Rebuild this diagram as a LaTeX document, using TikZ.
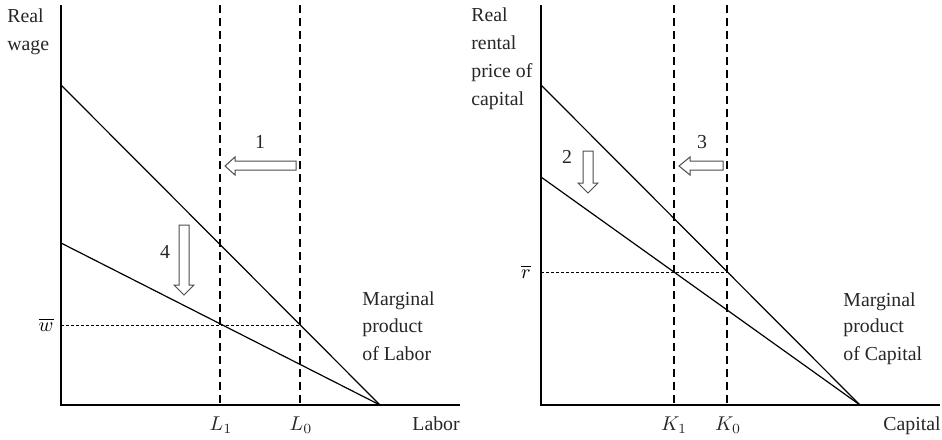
\documentclass[tikz,border=0pt]{standalone}
\usepackage{fontspec}
\setmainfont{Liberation Serif}
\begin{document}
\begin{tikzpicture}[x=0.5pt,y=-0.5pt,
  ax/.style={line width=0.6pt},
  curve/.style={line width=0.6pt},
  vdash/.style={line width=0.6pt,dash pattern=on 4pt off 2.5pt},
  hdot/.style={line width=0.5pt,dash pattern=on 1.5pt off 1pt},
  blockarrow/.style={line width=0.5pt,draw=black!70,fill=white},
  lbl/.style={inner sep=0pt,anchor=base west,text=black!85,font=\fontsize{9.9}{12}\selectfont},
  clbl/.style={inner sep=0pt,anchor=base,text=black!85,font=\fontsize{9.9}{12}\selectfont}]
\useasboundingbox (0,0) rectangle (942,439);

% ---------- left panel ----------
\coordinate (LO) at (61,405);
\coordinate (LYtop) at (61,5);
\coordinate (LXend) at (460,405);
\coordinate (LA) at (61,85);
\coordinate (LB) at (61,243);
\coordinate (LM) at (380,405);
\coordinate (L1t) at (220,5);
\coordinate (L1b) at (220,405);
\coordinate (L0t) at (300,5);
\coordinate (L0b) at (300,405);
\coordinate (LW) at (61,325);
\coordinate (LWe) at (300,325);

\draw[ax] (LYtop) -- (LO) -- (LXend);
\draw[curve] (LA) -- (LM);
\draw[curve] (LB) -- (LM);
\draw[vdash] (L1t) -- (L1b);
\draw[vdash] (L0t) -- (L0b);
\draw[hdot] (LW) -- (LWe);

\draw[blockarrow] (296,161) -- (235,161) -- (235,157) -- (225,166) -- (235,175) -- (235,170) -- (296,170) -- cycle;
\draw[blockarrow] (179,225) -- (189,225) -- (189,285) -- (194,285) -- (184,295) -- (174,285) -- (179,285) -- cycle;

\node[lbl] (realw) at (7,22) {Real};
\node[lbl] (wage) at (7,50) {wage};
\node[clbl] (n1) at (260,148) {1};
\node[clbl] (n4) at (165,258) {4};
\node[inner sep=0pt,anchor=east] (wbar) at (54,325) {$\overline{w}$};
\node[clbl] (l1) at (221,430) {$L_1$};
\node[clbl] (l0) at (301,430) {$L_0$};
\node[lbl] (labor) at (412,430) {Labor};
\node[lbl] (mpl1) at (362,305) {Marginal};
\node[lbl] (mpl2) at (362,332) {product};
\node[lbl] (mpl3) at (362,360) {of Labor};

% ---------- right panel ----------
\coordinate (RO) at (541,405);
\coordinate (RYtop) at (541,5);
\coordinate (RXend) at (940,405);
\coordinate (RA) at (541,85);
\coordinate (RB) at (541,177);
\coordinate (RM) at (860,405);
\coordinate (K1t) at (674,5);
\coordinate (K1b) at (674,405);
\coordinate (K0t) at (727,5);
\coordinate (K0b) at (727,405);
\coordinate (RR) at (541,272);
\coordinate (RRe) at (727,272);

\draw[ax] (RYtop) -- (RO) -- (RXend);
\draw[curve] (RA) -- (RM);
\draw[curve] (RB) -- (RM);
\draw[vdash] (K1t) -- (K1b);
\draw[vdash] (K0t) -- (K0b);
\draw[hdot] (RR) -- (RRe);

\draw[blockarrow] (723,161) -- (690,161) -- (690,157) -- (679,166) -- (690,175) -- (690,170) -- (723,170) -- cycle;
\draw[blockarrow] (583,151) -- (593,151) -- (593,183) -- (598,183) -- (588,193) -- (578,183) -- (583,183) -- cycle;

\node[lbl] (realr) at (471,21) {Real};
\node[lbl] (rental) at (471,49) {rental};
\node[lbl] (price) at (471,77) {price of};
\node[lbl] (capl) at (471,105) {capital};
\node[clbl] (n2) at (567,163) {2};
\node[clbl] (n3) at (702,148) {3};
\node[inner sep=0pt,anchor=east] (rbar) at (531,272) {$\overline{r}$};
\node[clbl] (k1) at (674,430) {$K_1$};
\node[clbl] (k0) at (728,430) {$K_0$};
\node[lbl] (capital) at (883,430) {Capital};
\node[lbl] (mpk1) at (843,306) {Marginal};
\node[lbl] (mpk2) at (843,332) {product};
\node[lbl] (mpk3) at (843,360) {of Capital};
\end{tikzpicture}
\end{document}
